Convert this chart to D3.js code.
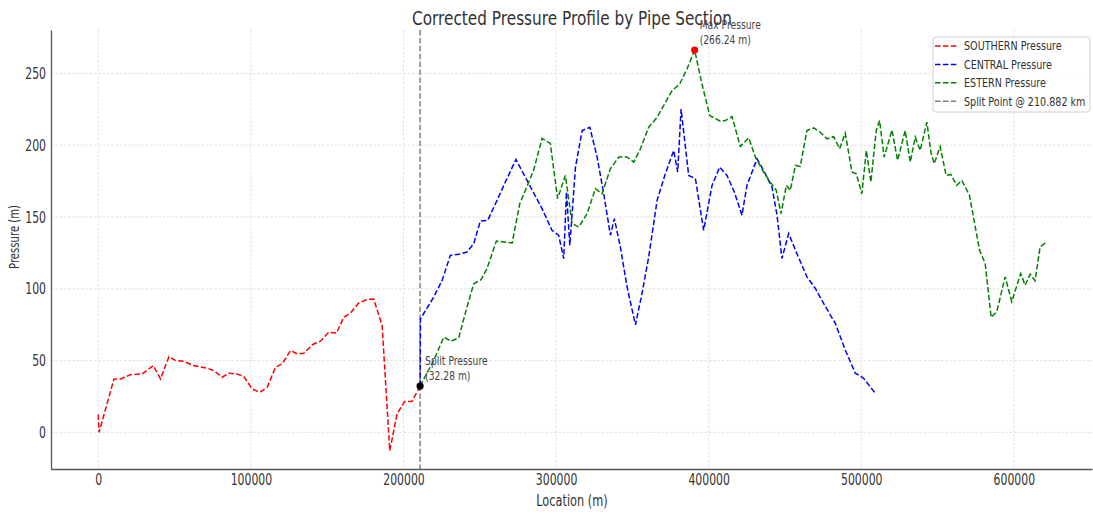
<!DOCTYPE html>
<html>
<head>
<meta charset="utf-8">
<script src="https://cdn.jsdelivr.net/npm/d3@7"></script>
<style>
  body { margin: 0; background: #fff; }
  text { font-family: "DejaVu Sans", sans-serif; fill: #333; }
</style>
</head>
<body>
<script>
// Southern section (location in m, pressure in m)
var southernLoc = [0, 500, 10260, 14600, 21200, 28800, 36000, 40800, 46300, 50700, 56100, 62200, 71400, 75700,
  81200, 85600, 91000, 95400, 100900, 105700, 110700, 116100, 120500, 126000, 130300, 134700, 140600, 145600,
  151100, 156100, 160900, 165200, 170600, 176200, 180500, 186000, 191000, 195800, 200600, 205600, 210882];
var southernP = [12.5, 0, 37.2, 37.2, 40.2, 40.7, 46.5, 37.2, 52.8, 50, 49.5, 46.5, 44.7, 43,
  38.4, 41.2, 40.7, 38.8, 30.2, 27.9, 31.4, 45.3, 47.7, 57, 54.7, 55.1, 61.2, 63.5,
  69.8, 69.1, 80.2, 83, 90, 92.6, 92.8, 74.4, -12.8, 12.8, 21.4, 21.6, 32.28];

// Central section
var centralLoc = [210882, 211100, 219800, 225300, 230700, 236200, 241600, 246000, 250400, 255200, 261300,
  267800, 273700, 280900, 290800, 297300, 301700, 305000, 306800, 309000, 312700, 317100, 322100, 326900,
  331200, 335600, 338200, 342100, 346500, 352000, 356300, 360700, 366200, 371600, 377100, 379700, 381900,
  386900, 391300, 396700, 402200, 407200, 412000, 416800, 421800, 425100, 431700, 436000, 441500, 444800,
  448000, 452400, 457800, 464400, 469900, 475300, 483000, 489500, 496100, 501500, 509100];
var centralP = [32.28, 79, 94.2, 105.8, 123.3, 124, 125.6, 131.4, 147.2, 147.7, 161.6,
  176.7, 190, 175.6, 155.8, 140.7, 137.2, 121, 167.4, 130.3, 184.7, 210.2, 212.5, 191.7,
  166.2, 137.3, 148.8, 129.2, 101.4, 74.8, 96.8, 122.2, 161.6, 180.1, 196.3, 181.3, 225.2,
  178.9, 176.6, 140.7, 172, 184.7, 178.9, 167.4, 151.2, 172, 190.5, 182.4, 170.8, 151.2,
  121.1, 138.4, 124.5, 108.3, 100.2, 89.8, 75.9, 57.4, 41.2, 37.7, 27.3];

// Estern section
var esternLoc = [210882, 219800, 226400, 231200, 236200, 241600, 246000, 250800, 254700, 260900, 265700,
  271200, 276200, 279900, 285300, 290800, 296200, 301000, 306100, 310500, 314900, 320300, 325800, 330100,
  335600, 341100, 346500, 350900, 355300, 360700, 366200, 370500, 376000, 381000, 385800, 390800, 395600,
  400700, 407600, 410900, 415300, 420700, 426200, 430600, 436000, 440400, 444300, 447400, 450900, 453500,
  456800, 460000, 464400, 468800, 473100, 477500, 481900, 485800, 489500, 493900, 496700, 500400, 503300,
  506300, 509800, 512000, 515000, 520100, 523800, 528800, 532100, 535400, 538600, 543000, 545600, 547800,
  551700, 555600, 558700, 562600, 565900, 570900, 577500, 581200, 585100, 588800, 594300, 598600, 604500,
  607400, 610700, 613900, 617200, 621600];
var esternP = [32.28, 50, 66.3, 63.5, 65.8, 87.2, 103.5, 106.3, 114, 133.3, 132.6,
  131.9, 159.3, 168.6, 182.6, 204.7, 201.2, 162.8, 178.9, 145.4, 143, 152.3, 169.7, 166.2,
  183.6, 191.7, 191.7, 188.2, 197.5, 212.5, 219.4, 227.5, 238, 242.6, 253, 266.24, 242.6,
  220.6, 216.7, 217.1, 219.9, 199.1, 205.1, 191.7, 181.3, 174.3, 168.5, 152.3, 172, 168.5,
  185.9, 185.2, 210.2, 212, 209, 204.4, 206, 197.5, 208.3, 181.3, 180.1, 166.2, 196.3,
  174.3, 210.2, 217.1, 191.7, 210.6, 189.4, 210.2, 188.2, 205.6, 196.3, 216, 195.1, 187.1,
  199.1, 178.9, 179.6, 172, 175.5, 165, 126.9, 117.6, 80.1, 84, 108.3, 91, 110.6,
  102.5, 110.2, 105.6, 129.2, 132.6];

var seriesNames = ["SOUTHERN Pressure", "CENTRAL Pressure", "ESTERN Pressure"];
var seriesColors = ["#ff0000", "#0000ff", "#008000"];
var splitLoc = 210882;
var splitPressure = 32.28;
var maxLoc = 390800;
var maxPressure = 266.24;
var splitLabel = "Split Point @ 210.882 km";

var xTicks = [0, 100000, 200000, 300000, 400000, 500000, 600000];
var yTicks = [0, 50, 100, 150, 200, 250];

// Define SVG area dimensions
var svgWidth = 1093;
var svgHeight = 512;
var margin = { top: 30, right: 1, bottom: 43, left: 51 };
var chartWidth = svgWidth - margin.left - margin.right;
var chartHeight = svgHeight - margin.top - margin.bottom;

var svg = d3.select("body").append("svg")
  .attr("width", svgWidth)
  .attr("height", svgHeight);

var focus = svg.append("g")
  .attr("transform", "translate(" + margin.left + "," + margin.top + ")");

var x = d3.scaleLinear().domain([-31000, 651200]).range([0, chartWidth]);
var y = d3.scaleLinear().domain([-25.5, 280.2]).range([chartHeight, 0]);

// narrow the text horizontally around its anchor
function squeeze(sel, k) {
  sel.each(function() {
    var t = d3.select(this);
    var x0 = +t.attr("x") || 0;
    t.attr("transform", "translate(" + x0 + ",0) scale(" + k + ",1) translate(" + (-x0) + ",0)");
  });
}

// grid
focus.append("g").selectAll("line")
  .data(xTicks).enter().append("line")
  .attr("x1", function(d) { return x(d); })
  .attr("x2", function(d) { return x(d); })
  .attr("y1", 0).attr("y2", chartHeight)
  .attr("stroke", "#d8d8d8").attr("stroke-width", 0.8).attr("stroke-dasharray", "2.5,1.8");
focus.append("g").selectAll("line")
  .data(yTicks).enter().append("line")
  .attr("x1", 0).attr("x2", chartWidth)
  .attr("y1", function(d) { return y(d); })
  .attr("y2", function(d) { return y(d); })
  .attr("stroke", "#d8d8d8").attr("stroke-width", 0.8).attr("stroke-dasharray", "2.5,1.8");

// split line
focus.append("line")
  .attr("x1", x(splitLoc)).attr("x2", x(splitLoc))
  .attr("y1", 0).attr("y2", chartHeight)
  .attr("stroke", "#808080").attr("stroke-width", 1.5)
  .attr("stroke-dasharray", "5.5,2.4");

// series lines
var line = d3.line()
  .x(function(d) { return x(d[0]); })
  .y(function(d) { return y(d[1]); });

var seriesData = [
  d3.zip(southernLoc, southernP),
  d3.zip(centralLoc, centralP),
  d3.zip(esternLoc, esternP)
];

seriesData.forEach(function(data, i) {
  focus.append("path")
    .datum(data)
    .attr("fill", "none")
    .attr("stroke", seriesColors[i])
    .attr("stroke-width", 1.5)
    .attr("stroke-dasharray", "5.5,2.4")
    .attr("d", line);
});

// axes
var xAxis = focus.append("g")
  .attr("transform", "translate(0," + chartHeight + ")")
  .call(d3.axisBottom(x).tickValues(xTicks).tickSize(0).tickPadding(5).tickFormat(d3.format("d")));
var yAxis = focus.append("g")
  .call(d3.axisLeft(y).tickValues(yTicks).tickSize(0).tickPadding(5));

[xAxis, yAxis].forEach(function(ax) {
  ax.select(".domain").attr("stroke", "#555").attr("stroke-width", 1.3);
  ax.selectAll("text").attr("font-size", 16).attr("font-family", "DejaVu Sans").attr("fill", "#333");
  squeeze(ax.selectAll("text"), 0.68);
});

// markers and annotations
focus.append("circle")
  .attr("cx", x(maxLoc)).attr("cy", y(maxPressure)).attr("r", 3.6).attr("fill", "#ff0000");
focus.append("circle")
  .attr("cx", x(splitLoc)).attr("cy", y(splitPressure)).attr("r", 3.6).attr("fill", "#000");

function annotate(px, py, lines) {
  var t = focus.append("g").selectAll("text")
    .data(lines).enter().append("text")
    .attr("x", x(px) + 5)
    .attr("y", function(d, i) { return y(py) - 21 + i * 15; })
    .attr("font-size", 11.5)
    .style("fill", "#444")
    .text(function(d) { return d; });
  squeeze(t, 0.8);
}
annotate(maxLoc, maxPressure, ["Max Pressure", "(" + maxPressure.toFixed(2) + " m)"]);
annotate(splitLoc, splitPressure, ["Split Pressure", "(" + splitPressure.toFixed(2) + " m)"]);

// title and axis labels
svg.append("text")
  .attr("x", 572).attr("y", 24.5)
  .attr("text-anchor", "middle")
  .attr("font-size", 20)
  .attr("textLength", 320).attr("lengthAdjust", "spacingAndGlyphs")
  .text("Corrected Pressure Profile by Pipe Section");

squeeze(svg.append("text")
  .attr("x", 572).attr("y", 506)
  .attr("text-anchor", "middle")
  .attr("font-size", 16)
  .text("Location (m)"), 0.71);

svg.append("text")
  .attr("transform", "translate(19,237) rotate(-90)")
  .attr("text-anchor", "middle")
  .attr("font-size", 14)
  .attr("textLength", 64).attr("lengthAdjust", "spacingAndGlyphs")
  .text("Pressure (m)");

// legend
var legendNames = seriesNames.concat([splitLabel]);
var legendColors = seriesColors.concat(["#808080"]);
var legend = svg.append("g");
legend.append("rect")
  .attr("x", 933).attr("y", 37).attr("width", 157).attr("height", 75).attr("rx", 3)
  .attr("fill", "#fff").attr("fill-opacity", 0.85)
  .attr("stroke", "#d0d0d0").attr("stroke-width", 1);
var rows = legend.selectAll("g.row")
  .data(legendNames).enter().append("g")
  .attr("class", "row")
  .attr("transform", function(d, i) { return "translate(0," + (46 + i * 18.4) + ")"; });
rows.append("line")
  .attr("x1", 935).attr("x2", 957)
  .attr("stroke", function(d, i) { return legendColors[i]; })
  .attr("stroke-width", 1.5)
  .attr("stroke-dasharray", "5.5,2.4");
squeeze(rows.append("text")
  .attr("x", 964).attr("y", 4.3)
  .attr("font-size", 12)
  .text(function(d) { return d; }), 0.8);
</script>
</body>
</html>
